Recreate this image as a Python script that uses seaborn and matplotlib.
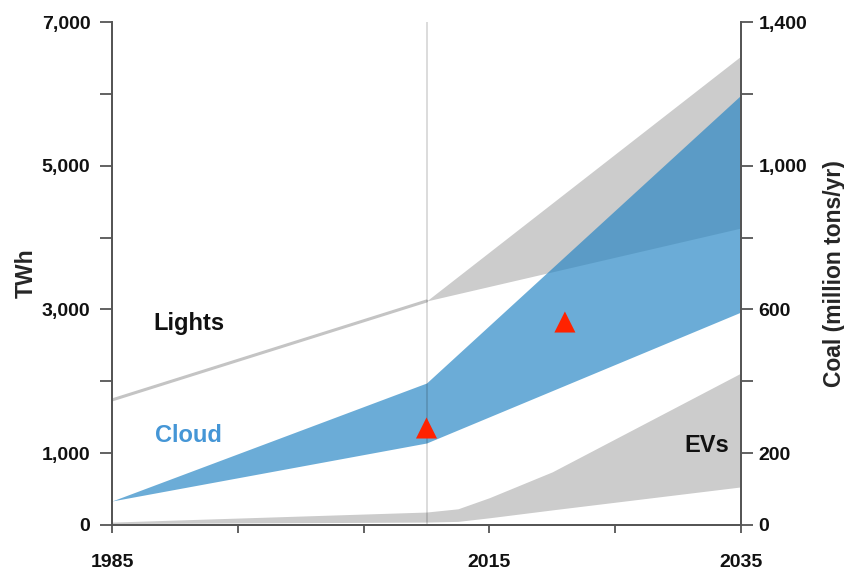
import numpy as np
import matplotlib
matplotlib.use("Agg")
import matplotlib.pyplot as plt
import seaborn as sns

# values (TWh, left axis)
years = [1985, 2010, 2035]
lights_low = [1740, 3117, 4133]
lights_high = [1740, 3117, 6527]
cloud_low = [334, 1141, 2964]
cloud_high = [334, 1976, 5984]

ev_years = [1985, 2010, 2012.5, 2015, 2020, 2035]
ev_low = [20, 40, 50, 100, 210, 530]
ev_high = [40, 180, 225, 380, 740, 2115]

marker_years = [2010, 2021]
marker_twh = [1350, 2825]

xticks = [1985, 1995, 2005, 2015, 2025, 2035]
xtick_labels = ['1985', '', '', '2015', '', '2035']
yticks = [0, 1000, 2000, 3000, 4000, 5000, 6000, 7000]
ytick_labels = ['0', '1,000', '', '3,000', '', '5,000', '', '7,000']
coal_ticks = [0, 200, 400, 600, 800, 1000, 1200, 1400]
coal_labels = ['0', '200', '', '600', '', '1,000', '', '1,400']

sns.set_theme(style="white")
plt.rcParams['font.family'] = ['Liberation Sans', 'DejaVu Sans']
plt.rcParams['font.weight'] = 'bold'

gray = '#cccccc'
blue = '#2585c4'
spine_col = '#555555'

fig = plt.figure(figsize=(8.44, 5.75), dpi=100)
ax = fig.add_axes([0.1327, 0.087, 0.7453, 0.8747])

# bands
ax.fill_between(years, lights_low, lights_high, color=gray, lw=0, zorder=1)
ax.fill_between(ev_years, ev_low, ev_high, color=gray, lw=0, zorder=1)
ax.fill_between(years, cloud_low, cloud_high, color=blue, alpha=0.68, lw=0, zorder=2)
sns.lineplot(x=years[:2], y=lights_high[:2], color='#c4c4c4', lw=2.2, ax=ax, zorder=2)

ax.axvline(2010, color='black', alpha=0.18, lw=1.1, zorder=3)
sns.scatterplot(x=marker_years, y=marker_twh, marker='^', s=230, color='#ff2200',
                edgecolor='none', ax=ax, zorder=4)

ax.text(1988.3, 2811, 'Lights', fontsize=17, fontweight='bold', color='#111111',
        ha='left', va='center')
ax.text(1988.4, 1252, 'Cloud', fontsize=17, fontweight='bold', color='#4596d6',
        ha='left', va='center')
ax.text(2030.5, 1113, 'EVs', fontsize=17, fontweight='bold', color='#111111',
        ha='left', va='center')

ax.set_xlim(1985, 2035)
ax.set_ylim(0, 7000)
ax.set_xticks(xticks)
ax.set_xticklabels(xtick_labels)
ax.set_yticks(yticks)
ax.set_yticklabels(ytick_labels)
ax.tick_params(axis='x', direction='out', length=6, width=1.3, color=spine_col,
               pad=15, labelsize=14, bottom=True)
ax.tick_params(axis='y', direction='out', length=8.6, width=1.3, color=spine_col,
               pad=7, labelsize=14, left=True)
ax.set_ylabel('TWh', fontsize=16.5, fontweight='bold', labelpad=3)

ax2 = ax.twinx()
ax2.set_ylim(0, 1400)
ax2.set_yticks(coal_ticks)
ax2.set_yticklabels(coal_labels)
ax2.tick_params(axis='y', direction='out', length=8.6, width=1.3, color=spine_col,
                pad=4, labelsize=14, right=True)
ax2.set_ylabel('Coal (million tons/yr)', fontsize=16.5, fontweight='bold', labelpad=11)

for a in (ax, ax2):
    a.spines['top'].set_visible(False)
    for s in ('left', 'right', 'bottom'):
        a.spines[s].set_color(spine_col)
        a.spines[s].set_linewidth(1.3)
    for lab in a.get_xticklabels() + a.get_yticklabels():
        lab.set_fontweight('bold')
        lab.set_color('#111111')

fig.savefig('out.png', dpi=100)
